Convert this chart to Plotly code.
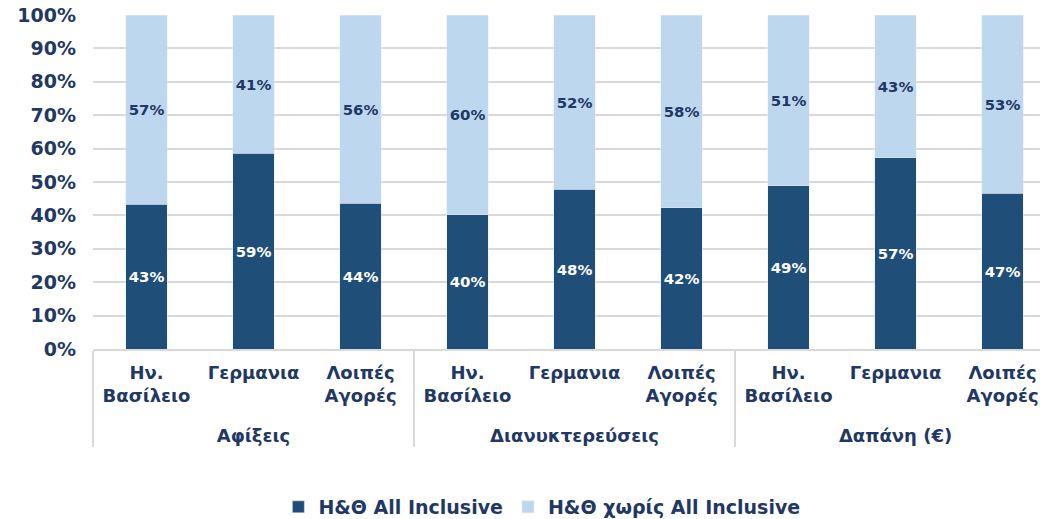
import plotly.graph_objects as go

# Data
groups = ["Αφίξεις"] * 3 + ["Διανυκτερεύσεις"] * 3 + ["Δαπάνη (€)"] * 3
markets = ["Ην.<br>Βασίλειο", "Γερμανια", "Λοιπές<br>Αγορές"] * 3
all_inclusive = [43.4, 58.6, 43.6, 40.2, 47.8, 42.3, 48.9, 57.3, 46.6]
without_ai = [56.6, 41.4, 56.4, 59.8, 52.2, 57.7, 51.1, 42.7, 53.4]

navy = "#1f3864"
font_family = "DejaVu Sans"

# pad group labels down one line, as in the source chart
group_labels = ["<br>" + g for g in groups]

fig = go.Figure()
fig.add_trace(go.Bar(
    x=[group_labels, markets], y=all_inclusive, name="Η&Θ All Inclusive",
    marker=dict(color="#1f4e79"),
    texttemplate="%{y:.0f}%", textposition="inside", insidetextanchor="middle",
    textfont=dict(color="white", size=18, family=font_family, weight="bold"),
    textangle=0,
))
fig.add_trace(go.Bar(
    x=[group_labels, markets], y=without_ai, name="Η&Θ χωρίς All Inclusive",
    marker=dict(color="#bdd7ee"),
    texttemplate="%{y:.0f}%", textposition="inside", insidetextanchor="middle",
    textfont=dict(color=navy, size=18, family=font_family, weight="bold"),
    textangle=0,
))

fig.update_layout(
    width=1040, height=519,
    barmode="stack", bargap=0.61,
    plot_bgcolor="white", paper_bgcolor="white",
    margin=dict(l=93, r=0, t=15, b=170, autoexpand=False),
    font=dict(family=font_family, color=navy, size=16, weight="bold"),
    showlegend=True,
    legend=dict(orientation="h", x=0.474, xanchor="center", y=-0.473, yanchor="middle",
                font=dict(size=19, color=navy, weight="bold"), traceorder="normal",
                itemwidth=30),
    uniformtext=dict(mode=False),
)
fig.update_yaxes(
    range=[0, 100], dtick=10, ticksuffix="%",
    showgrid=True, gridcolor="#d9d9d9", gridwidth=2,
    zeroline=False, showline=False, automargin=False,
    tickfont=dict(size=19, color=navy, weight="bold"),
    ticklabelstandoff=16,
)
fig.update_xaxes(
    type="multicategory", range=[-0.5, 8.35], automargin=False,
    showline=True, linecolor="#d9d9d9", linewidth=2,
    showdividers=True, dividercolor="#d9d9d9", dividerwidth=2,
    tickfont=dict(size=18, color=navy, weight="bold"),
    ticks="", ticklabelstandoff=6,
)

# drop the browser's default body margin so the figure fills the window
fig.write_html("out.html", config={"displayModeBar": False},
               post_script="document.body.style.margin='0';")
